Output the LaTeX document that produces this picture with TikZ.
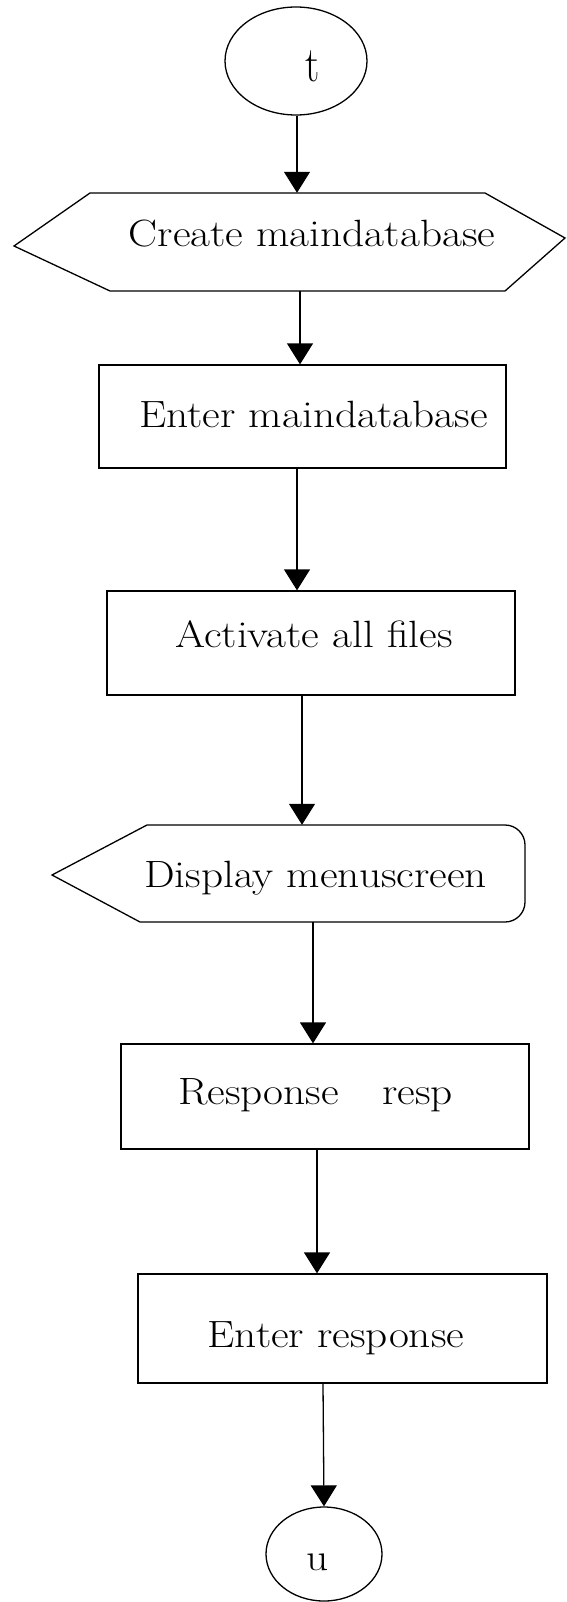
\documentclass[tikz,border=0pt]{standalone}
\usepackage{graphicx}
\usetikzlibrary{arrows.meta,shapes.geometric}
\newcommand{\lbl}[1]{\scalebox{1.14}[1]{\fontsize{38}{42}\selectfont #1}}
\tikzset{
  outline/.style={draw=black, line width=1.3pt, line join=miter},
  box/.style={outline, rectangle, inner sep=0pt},
  holder/.style={rectangle, inner sep=0pt},
  term/.style={outline, ellipse, inner sep=0pt},
  txt/.style={anchor=base, inner sep=0pt},
  arr/.style={draw=black, line width=1.3pt, -{Triangle[width=26pt,length=21pt]}},
}
\begin{document}
\begin{tikzpicture}[x=1pt,y=-1pt]
\useasboundingbox (0,0) rectangle (566,1602);
% start terminal
\node[term, minimum width=142pt, minimum height=108pt] (start) at (296,61) {};
\node[txt] (tt) at (313,82) {\scalebox{1}[1.25]{\fontsize{40}{42}\selectfont t}};
% hexagon
\draw[outline] (90,193) -- (485,193) -- (565,238) -- (505,291) -- (110,291) -- (14,246) -- cycle;
\node[holder, minimum width=551pt, minimum height=98pt] (hex) at (289.5,242) {};
\node[txt] (thex) at (312,247) {\lbl{Create maindatabase}};
% rect 1
\node[box, minimum width=407pt, minimum height=103pt] (r1) at (302.5,416.5) {};
\node[txt] (tr1) at (313.5,427) {\lbl{Enter maindatabase}};
% rect 2
\node[box, minimum width=408pt, minimum height=104pt] (r2) at (311,643) {};
\node[txt] (tr2) at (314,647) {\lbl{Activate all files}};
% display
\draw[outline] (147,825) -- (505,825) arc[start angle=-90, end angle=0, radius=20] -- (525,902) arc[start angle=0, end angle=90, radius=20] -- (140,922) -- (52,875) -- cycle;
\node[holder, minimum width=473pt, minimum height=97pt] (disp) at (288.5,873.5) {};
\node[txt] (tdisp) at (315.5,887) {\lbl{Display menuscreen}};
% rect 3
\node[box, minimum width=408pt, minimum height=105pt] (r3) at (325,1096.5) {};
\node[txt] (tr3) at (315.5,1104) {\lbl{Response\hspace{38pt}resp}};
% rect 4
\node[box, minimum width=409pt, minimum height=109pt] (r4) at (342.5,1328.5) {};
\node[txt] (tr4) at (336,1347) {\lbl{Enter response}};
% end terminal
\node[term, minimum width=116pt, minimum height=94pt] (stop) at (324,1554) {};
\node[txt] (tu) at (318,1570) {\lbl{u}};
% connector x positions
\coordinate (c1) at (297,0);
\coordinate (c2) at (300,0);
\coordinate (c3) at (297,0);
\coordinate (c4) at (302,0);
\coordinate (c5) at (313,0);
\coordinate (c6) at (317,0);
\coordinate (c7) at (323,0);
\draw[arr] (start.south -| c1) -- (hex.north -| c1);
\draw[arr] (hex.south -| c2) -- (r1.north -| c2);
\draw[arr] (r1.south -| c3) -- (r2.north -| c3);
\draw[arr] (r2.south -| c4) -- (disp.north -| c4);
\draw[arr] (disp.south -| c5) -- (r3.north -| c5);
\draw[arr] (r3.south -| c6) -- (r4.north -| c6);
\draw[arr] (r4.south -| c7) -- (stop.north);
\end{tikzpicture}
\end{document}
